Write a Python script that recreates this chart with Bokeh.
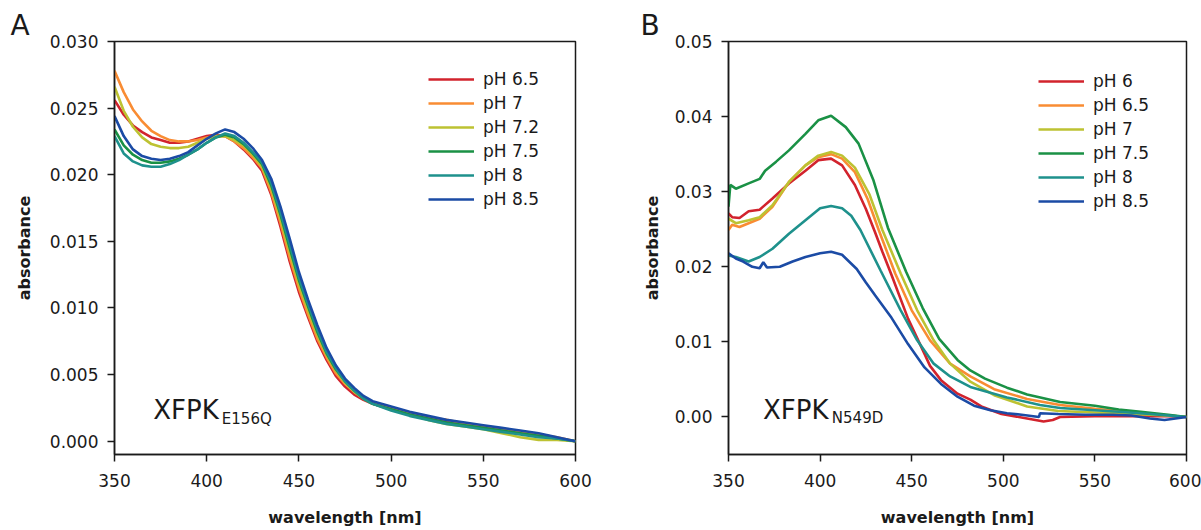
from bokeh.plotting import figure
from bokeh.models import (Legend, LegendItem, Label, FixedTicker,
                          NumeralTickFormatter, Range1d, Title)
from bokeh.layouts import row
from bokeh.embed import file_html
from bokeh.resources import INLINE

FONT = "DejaVu Sans"
TXT = "#1a1a1a"

# ---------------- Panel A data (XFPK E156Q) ----------------
wl_a = [350, 355, 360, 365, 370, 375, 380, 385, 390, 395, 400, 405, 410,
        415, 420, 425, 430, 435, 440, 445, 450, 455, 460, 465, 470, 475, 480, 485, 490,
        500, 510, 520, 530, 540, 550, 560, 570, 580, 590, 600]
a_ph65 = [.0256, .0245, .0237, .0232, .0228, .0226, .0224, .0224, .0225, .0227, .0229, .0230, .0229,
          .0225, .0219, .0212, .0203, .0185, .0161, .0135, .0112, .0093, .0075, .0061, .0049, .0041, .0035, .0031, .0028,
          .0024, .0021, .0018, .0015, .0013, .0011, .0008, .0006, .0004, .0002, .0000]
a_ph7 = [.0278, .0262, .0249, .0240, .0233, .0229, .0226, .0225, .0225, .0226, .0228, .0229, .0229,
         .0225, .0220, .0213, .0205, .0187, .0164, .0138, .0115, .0095, .0077, .0063, .0051, .0043, .0037, .0032, .0029,
         .0025, .0021, .0018, .0016, .0013, .0011, .0009, .0007, .0005, .0003, .0000]
a_ph72 = [.0266, .0248, .0236, .0228, .0223, .0221, .0220, .0220, .0221, .0224, .0227, .0229, .0229,
          .0226, .0222, .0215, .0206, .0190, .0167, .0142, .0118, .0098, .0080, .0065, .0053, .0044, .0037, .0032, .0028,
          .0024, .0020, .0016, .0013, .0011, .0009, .0006, .0003, .0001, .0001, .0000]
a_ph75 = [.0234, .0222, .0215, .0211, .0209, .0209, .0210, .0212, .0215, .0219, .0224, .0228, .0230,
          .0228, .0223, .0216, .0208, .0192, .0170, .0145, .0121, .0101, .0082, .0066, .0054, .0045, .0038, .0032, .0028,
          .0024, .0020, .0017, .0014, .0012, .0010, .0008, .0006, .0004, .0002, .0000]
a_ph8 = [.0229, .0216, .0210, .0207, .0206, .0206, .0208, .0211, .0215, .0219, .0224, .0228, .0231,
         .0229, .0224, .0217, .0209, .0194, .0172, .0148, .0123, .0103, .0084, .0067, .0055, .0045, .0038, .0032, .0028,
         .0023, .0019, .0016, .0013, .0011, .0009, .0007, .0005, .0003, .0002, .0000]
a_ph85 = [.0244, .0229, .0219, .0214, .0212, .0211, .0212, .0214, .0217, .0222, .0227, .0231, .0234,
          .0232, .0227, .0220, .0211, .0197, .0176, .0152, .0127, .0106, .0087, .0070, .0057, .0047, .0040, .0034, .0030,
          .0026, .0022, .0019, .0016, .0014, .0012, .0010, .0008, .0006, .0003, .0000]
labels_a = ["pH 6.5", "pH 7", "pH 7.2", "pH 7.5", "pH 8", "pH 8.5"]

# ---------------- Panel B data (XFPK N549D) ----------------
b_wl6 = [350, 352, 356, 361, 367, 374, 383, 392, 399, 406, 412, 419, 425, 430, 434, 439, 448, 457,
         460, 466, 475, 482, 488, 499, 513, 522, 527, 531, 550, 570, 590, 600]
b_ph6 = [.0271, .0266, .0265, .0274, .0276, .0291, .0311, .0328, .0342, .0344, .0335, .0309, .0277,
         .0246, .0220, .0189, .0131, .0084, .0068, .0049, .0031, .0023, .0014, .0004, -.0002, -.0006,
         -.0004, .0000, .0001, .0001, .0001, .0000]
b_wl65 = [350, 352, 356, 361, 367, 374, 383, 392, 399, 406, 412, 419, 426, 432, 441, 450, 460, 471,
          482, 495, 513, 531, 550, 563, 580, 600]
b_ph65 = [.0249, .0256, .0253, .0258, .0264, .0280, .0313, .0335, .0346, .0350, .0344, .0326, .0290,
          .0249, .0191, .0142, .0102, .0071, .0054, .0037, .0024, .0016, .0011, .0008, .0004, .0000]
b_wl7 = [350, 354, 361, 367, 374, 383, 392, 399, 406, 412, 419, 427, 434, 444, 453, 462, 471, 482,
         495, 513, 530, 550, 570, 590, 600]
b_ph7 = [.0264, .0258, .0262, .0266, .0282, .0313, .0335, .0348, .0353, .0348, .0332, .0296, .0249,
         .0191, .0142, .0102, .0071, .0047, .0029, .0014, .0008, .0006, .0004, .0002, .0000]
b_wl75 = [350, 351, 354, 361, 367, 370, 376, 383, 392, 399, 406, 414, 421, 429, 437, 447, 456, 465,
          475, 482, 490, 502, 513, 531, 550, 563, 575, 590, 600]
b_ph75 = [.0280, .0309, .0304, .0311, .0317, .0328, .0340, .0355, .0377, .0395, .0401, .0386, .0364,
          .0316, .0252, .0193, .0145, .0104, .0076, .0062, .0051, .0039, .0030, .0020, .0015, .0010,
          .0007, .0003, .0000]
b_wl8 = [350, 354, 361, 367, 374, 383, 392, 400, 406, 412, 417, 422, 433, 444, 453, 462, 471, 482,
         502, 520, 531, 550, 563, 580, 600]
b_ph8 = [.0215, .0213, .0207, .0213, .0224, .0244, .0262, .0278, .0281, .0278, .0268, .0249, .0195,
         .0142, .0102, .0071, .0054, .0040, .0026, .0016, .0012, .0009, .0007, .0004, .0000]
b_wl85 = [350, 354, 358, 363, 367, 369, 371, 378, 385, 392, 400, 406, 412, 420, 425, 430, 439, 448,
          457, 466, 475, 484, 493, 502, 510, 519.5, 520, 530, 545, 560, 570, 580, 588, 600]
b_ph85 = [.0218, .0211, .0207, .0200, .0198, .0206, .0199, .0200, .0207, .0213, .0218, .0220, .0216,
          .0197, .0179, .0162, .0132, .0097, .0066, .0044, .0027, .0015, .0009, .0005, .0003, .0000,
          .0005, .0004, .0003, .0003, .0002, -.0002, -.0004, .0000]
labels_b = ["pH 6", "pH 6.5", "pH 7", "pH 7.5", "pH 8", "pH 8.5"]

colors = ["#d2232d", "#f98c33", "#bdc232", "#1a9145", "#1e918c", "#1b4ba5"]
x_ticks = [350, 400, 450, 500, 550, 600]


def make_fig(width, bl, br, ymin, ymax, yticks, fmt, ylab_standoff, letter, letter_offset):
    p = figure(width=width, height=530, x_range=Range1d(350, 600), y_range=Range1d(ymin, ymax),
               output_backend="svg", toolbar_location=None,
               min_border_left=bl, min_border_right=br, min_border_top=41, min_border_bottom=76)
    p.title = Title(text=letter, align="left", offset=letter_offset, standoff=0,
                    text_font=FONT, text_font_size="28px", text_font_style="normal",
                    text_color=TXT)
    p.grid.visible = False
    p.outline_line_color = TXT
    p.outline_line_width = 1.5
    p.background_fill_color = "white"
    p.border_fill_color = "white"
    for ax in (p.xaxis[0], p.yaxis[0]):
        ax.axis_line_color = TXT
        ax.axis_line_width = 1.5
        ax.major_tick_line_color = TXT
        ax.major_tick_line_width = 1.5
        ax.major_tick_in = 0
        ax.major_tick_out = 7
        ax.minor_tick_line_color = None
        ax.major_label_text_font = FONT
        ax.major_label_text_font_size = "17px"
        ax.major_label_text_color = TXT
        ax.axis_label_text_font = FONT
        ax.axis_label_text_font_size = "16px"
        ax.axis_label_text_font_style = "bold"
        ax.axis_label_text_color = TXT
    p.xaxis.ticker = FixedTicker(ticks=x_ticks)
    p.xaxis.major_label_standoff = 12
    p.xaxis.axis_label = "wavelength [nm]"
    p.xaxis.axis_label_standoff = 18
    p.yaxis.ticker = FixedTicker(ticks=yticks)
    p.yaxis.formatter = NumeralTickFormatter(format=fmt)
    p.yaxis.major_label_standoff = 9
    p.yaxis.axis_label = "absorbance"
    p.yaxis.axis_label_standoff = ylab_standoff
    return p


def add_legend(p, renderers, labels, loc):
    items = [LegendItem(label=l, renderers=[r]) for l, r in zip(labels, renderers)]
    leg = Legend(items=items, location=loc, orientation="vertical",
                 glyph_width=46, glyph_height=20, label_height=20, label_standoff=9,
                 spacing=4, padding=0, margin=0, border_line_color=None,
                 background_fill_alpha=0, label_text_font=FONT,
                 label_text_font_size="17px", label_text_color=TXT)
    p.add_layout(leg)


# ---------- Panel A ----------
pA = make_fig(600, 114, 25, -0.001, 0.030,
              [0.0, 0.005, 0.010, 0.015, 0.020, 0.025, 0.030], "0.000", 13, "A", -104)
series_a = [a_ph65, a_ph7, a_ph72, a_ph75, a_ph8, a_ph85]
rs_a = [pA.line(wl_a, s, line_color=c, line_width=2.6) for s, c in zip(series_a, colors)]
add_legend(pA, rs_a, labels_a, (314, 245))
pA.add_layout(Label(x=371, y=0.00234, text="XFPK", text_font=FONT, text_font_size="26px",
                    text_color=TXT, text_baseline="alphabetic"))
pA.add_layout(Label(x=408.2, y=0.00167, text="E156Q", text_font=FONT, text_font_size="15px",
                    text_color=TXT, text_baseline="alphabetic"))

# ---------- Panel B ----------
pB = make_fig(601, 128, 15, -0.005, 0.05,
              [0.0, 0.01, 0.02, 0.03, 0.04, 0.05], "0.00", 10, "B", -88)
series_b = [(b_wl6, b_ph6), (b_wl65, b_ph65), (b_wl7, b_ph7), (b_wl75, b_ph75),
            (b_wl8, b_ph8), (b_wl85, b_ph85)]
rs_b = [pB.line(w, s, line_color=c, line_width=2.6) for (w, s), c in zip(series_b, colors)]
add_legend(pB, rs_b, labels_b, (310, 243))
pB.add_layout(Label(x=368.8, y=0.00093, text="XFPK", text_font=FONT, text_font_size="26px",
                    text_color=TXT, text_baseline="alphabetic"))
pB.add_layout(Label(x=406.4, y=-0.0001, text="N549D", text_font=FONT, text_font_size="15px",
                    text_color=TXT, text_baseline="alphabetic"))

layout = row(pA, pB, spacing=0)
open("out.html", "w").write(file_html(layout, INLINE))
